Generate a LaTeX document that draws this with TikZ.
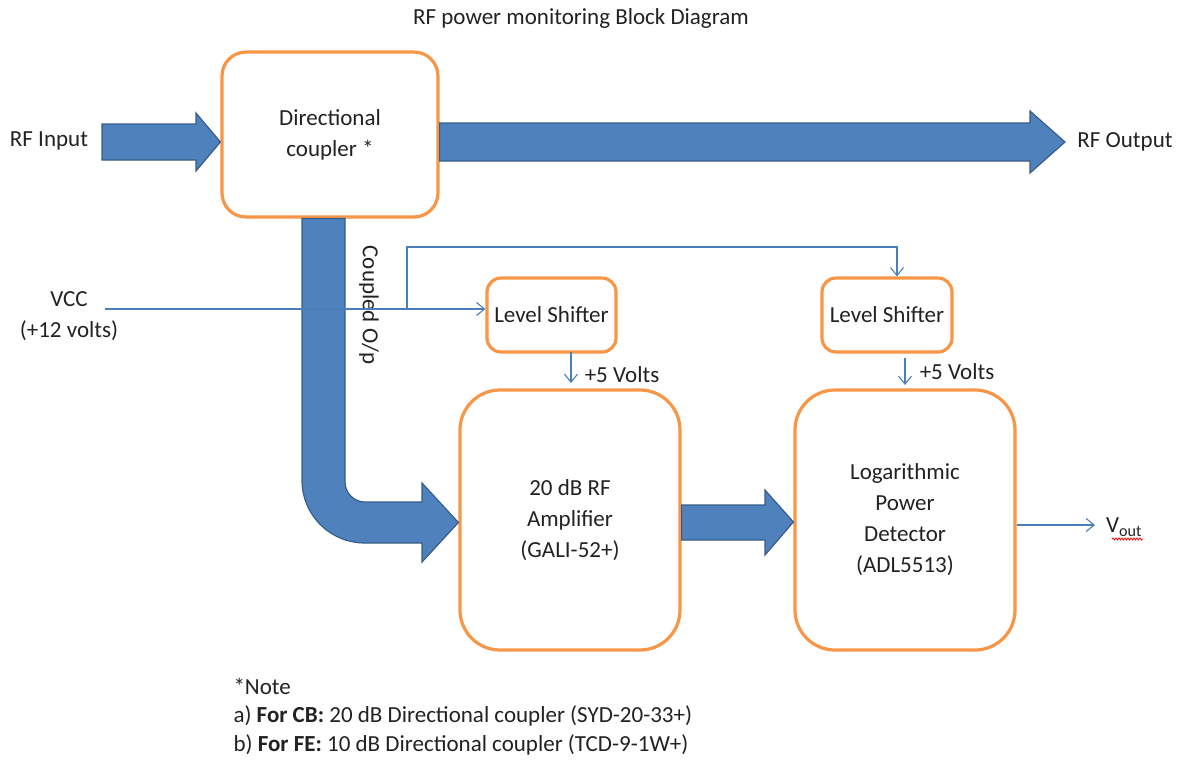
\documentclass[tikz,border=0pt]{standalone}
\usepackage{fontspec}
\setmainfont{Carlito}
\usetikzlibrary{arrows.meta,calc,decorations.pathmorphing}
\definecolor{boxor}{HTML}{F79646}
\definecolor{arrfill}{HTML}{4F81BD}
\definecolor{arrdraw}{HTML}{385D8A}
\definecolor{thinc}{HTML}{4A7EBB}
\definecolor{txt}{HTML}{222222}
\begin{document}
\begin{tikzpicture}[x=1pt,y=-1pt,
  every node/.style={text=txt,font=\fontsize{23}{31}\selectfont},
  blk/.style={draw=boxor,line width=3.2pt,rounded corners=#1,fill=white,inner sep=0pt,align=center},
  big/.style={fill=arrfill,draw=arrdraw,line width=1.2pt,line join=miter},
  wire/.style={draw=thinc,line width=1.1pt,-{Straight Barb[length=8pt,width=13pt,line width=1.1pt]}},
  note/.style={anchor=west,font=\fontsize{23}{26}\selectfont}]
\useasboundingbox[fill=white] (0,0) rectangle (1186,764);

% blocks
\node[blk=24pt,minimum width=216pt,minimum height=165pt] (coupler) at (330,134.5) {Directional\\coupler *};
\node[blk=14pt,minimum width=129pt,minimum height=74pt] (ls1) at (551.5,315) {Level Shifter};
\node[blk=14pt,minimum width=130pt,minimum height=74pt] (ls2) at (887,315) {Level Shifter};
\node[blk=40pt,minimum width=220pt,minimum height=260pt] (amp) at (570,520) {20 dB RF\\Amplifier\\(GALI-52+)};
\node[blk=40pt,minimum width=220pt,minimum height=260pt] (det) at (905,520) {Logarithmic\\Power\\Detector\\(ADL5513)};

% labels
\node (title) at (581,18) {RF power monitoring Block Diagram};
\node (rfin) at (49,141) {RF Input};
\node (rfout) at (1125,142) {RF Output};
\node[align=center] (vcc) at (69,316) {VCC\\(+12 volts)};
\node[rotate=-90] (cpl) at (369,305) {Coupled O/p};
\node (v5a) at (622,375) {+5 Volts};
\node (v5b) at (957,372) {+5 Volts};
\node (vout) at (1124,527) {V\textsubscript{out}};

% big arrows
\draw[big] (102,124) -- (196,124) -- (196,113) -- (coupler.west |- 0,142) -- (196,171) -- (196,160) -- (102,160) -- cycle;
\draw[big] (coupler.east |- 0,123) -- (1030,123) -- (1030,111) -- (1065,142) -- (1030,173) -- (1030,161) -- (coupler.east |- 0,161) -- cycle;
\draw[big] (amp.east |- 0,505) -- (765,505) -- (765,490) -- (det.west |- 0,522) -- (765,555) -- (765,540) -- (amp.east |- 0,540) -- cycle;
\draw[big] (345,218.5) -- (345,482) .. controls (345,493) and (354,502) .. (365,502) -- (422,502) -- (422,483)
  -- (amp.west |- 0,522.5) -- (422,562) -- (422,543) -- (365,543) .. controls (330,543) and (302,515) .. (302,480) -- (302,218.5) -- cycle;

% thin connectors
\coordinate (vccL) at (105,309);
\coordinate (br) at (407,309);
\coordinate (top) at (897,247);
\draw[wire] (vccL) -- (vccL -| ls1.west);
\draw[wire] (br) -- (br |- top) -- (top) -- (top |- ls2.north);
\draw[wire] (571,352) -- (571,383);
\draw[wire] (905,358) -- (905,385);
\draw[wire] (det.east |- 0,525) -- (1095,525);
\draw[red,line width=0.8pt,decorate,decoration={snake,amplitude=1pt,segment length=3pt}] (1112,539) -- (1143,539);

% notes
\node[note] (n0) at (230,686) {*Note};
\node[note] (n1) at (230,716) {a) \textbf{For CB:} 20 dB Directional coupler (SYD-20-33+)};
\node[note] (n2) at (230,745) {b) \textbf{For FE:} 10 dB Directional coupler (TCD-9-1W+)};
\end{tikzpicture}
\end{document}
